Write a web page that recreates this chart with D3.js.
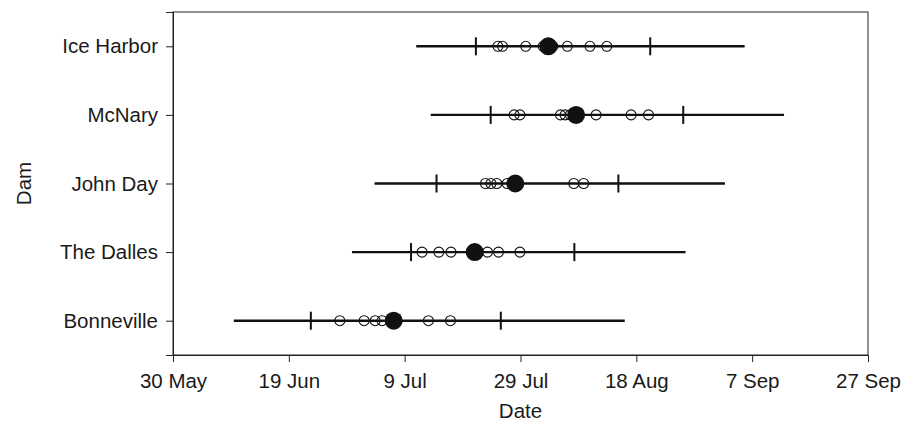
<!DOCTYPE html>
<html>
<head>
<meta charset="utf-8">
<script src="https://cdn.jsdelivr.net/npm/d3@7"></script>
<style>
  body { margin: 0; background: #fff; }
  svg text { font-family: "Liberation Sans", Arial, sans-serif; fill: #1a1a1a; }
</style>
</head>
<body>
<svg id="chart" width="913" height="424"></svg>
<script>
// values are days after 30 May
const dams = ['Ice Harbor', 'McNary', 'John Day', 'The Dalles', 'Bonneville'];
const rangeStart = [42.0, 44.5, 34.8, 30.9, 10.5];
const rangeEnd = [98.7, 105.5, 95.3, 88.5, 78.0];
const ciLow = [52.3, 54.85, 45.5, 41.1, 23.8];
const ciHigh = [82.4, 88.1, 76.9, 69.3, 56.6];
const centre = [64.8, 69.6, 59.1, 52.1, 38.1];
const yearly = [
  [56.1, 56.9, 60.9, 63.9, 65.6, 68.1, 72.0, 74.9],
  [58.9, 59.9, 66.9, 67.7, 68.6, 73.05, 79.1, 82.1],
  [53.95, 54.9, 55.9, 57.7, 69.2, 70.9],
  [43.0, 45.9, 48.0, 54.3, 56.2, 59.9],
  [28.8, 33.0, 34.9, 36.1, 44.1, 47.9],
];
const tickDays = [0, 20, 40, 60, 80, 100, 120];

const base = Date.UTC(2001, 4, 30);
const toDate = (d) => new Date(base + d * 864e5);

const width = 913;
const height = 424;
const margin = { top: 12, right: 45, bottom: 69, left: 173 };
const chartWidth = width - margin.left - margin.right;
const chartHeight = height - margin.top - margin.bottom;
const fontSize = 20.5;

const svg = d3.select('#chart');
const g = svg.append('g').attr('transform', `translate(${margin.left},${margin.top})`);

const x = d3.scaleUtc()
  .domain([toDate(0), toDate(120)])
  .range([0, chartWidth]);

const y = d3.scalePoint()
  .domain(dams)
  .range([0, chartHeight])
  .padding(0.5);

// frame
g.append('rect')
  .attr('width', chartWidth)
  .attr('height', chartHeight)
  .attr('fill', 'none')
  .attr('stroke', '#222')
  .attr('stroke-width', 1);

//
// AXES
//
const xAxis = g.append('g')
  .attr('transform', `translate(0,${chartHeight})`)
  .call(d3.axisBottom(x)
    .tickValues(tickDays.map(toDate))
    .tickFormat(d3.utcFormat('%-d %b'))
    .tickSizeOuter(0)
    .tickSize(7)
    .tickPadding(11));

const yAxis = g.append('g')
  .call(d3.axisLeft(y).tickSizeOuter(0).tickSize(7).tickPadding(8));

[xAxis, yAxis].forEach((a) => {
  a.select('.domain').attr('stroke', '#222');
  a.selectAll('.tick line').attr('stroke', '#222');
  a.selectAll('.tick text').attr('font-size', fontSize).attr('fill', '#1a1a1a');
});

svg.append('text')
  .attr('x', margin.left + chartWidth / 2)
  .attr('y', 418)
  .attr('text-anchor', 'middle')
  .attr('font-size', fontSize)
  .text('Date');

svg.append('text')
  .attr('transform', `translate(31,${margin.top + chartHeight / 2}) rotate(-90)`)
  .attr('text-anchor', 'middle')
  .attr('font-size', fontSize)
  .text('Dam');

//
// MARKS
//
const rows = g.selectAll('.row')
  .data(dams)
  .join('g')
  .attr('class', 'row')
  .attr('transform', (d) => `translate(0,${y(d)})`);

rows.append('line')
  .attr('x1', (d, i) => x(toDate(rangeStart[i])))
  .attr('x2', (d, i) => x(toDate(rangeEnd[i])))
  .attr('stroke', '#111')
  .attr('stroke-width', 2.4);

rows.selectAll('.ci')
  .data((d, i) => [ciLow[i], ciHigh[i]])
  .join('line')
  .attr('class', 'ci')
  .attr('x1', (v) => x(toDate(v)))
  .attr('x2', (v) => x(toDate(v)))
  .attr('y1', -9)
  .attr('y2', 9)
  .attr('stroke', '#111')
  .attr('stroke-width', 2);

rows.selectAll('.yr')
  .data((d, i) => yearly[i])
  .join('circle')
  .attr('class', 'yr')
  .attr('cx', (v) => x(toDate(v)))
  .attr('r', 5)
  .attr('fill', 'none')
  .attr('stroke', '#111')
  .attr('stroke-width', 1.1);

rows.append('circle')
  .attr('cx', (d, i) => x(toDate(centre[i])))
  .attr('r', 9)
  .attr('fill', '#111');
</script>
</body>
</html>
